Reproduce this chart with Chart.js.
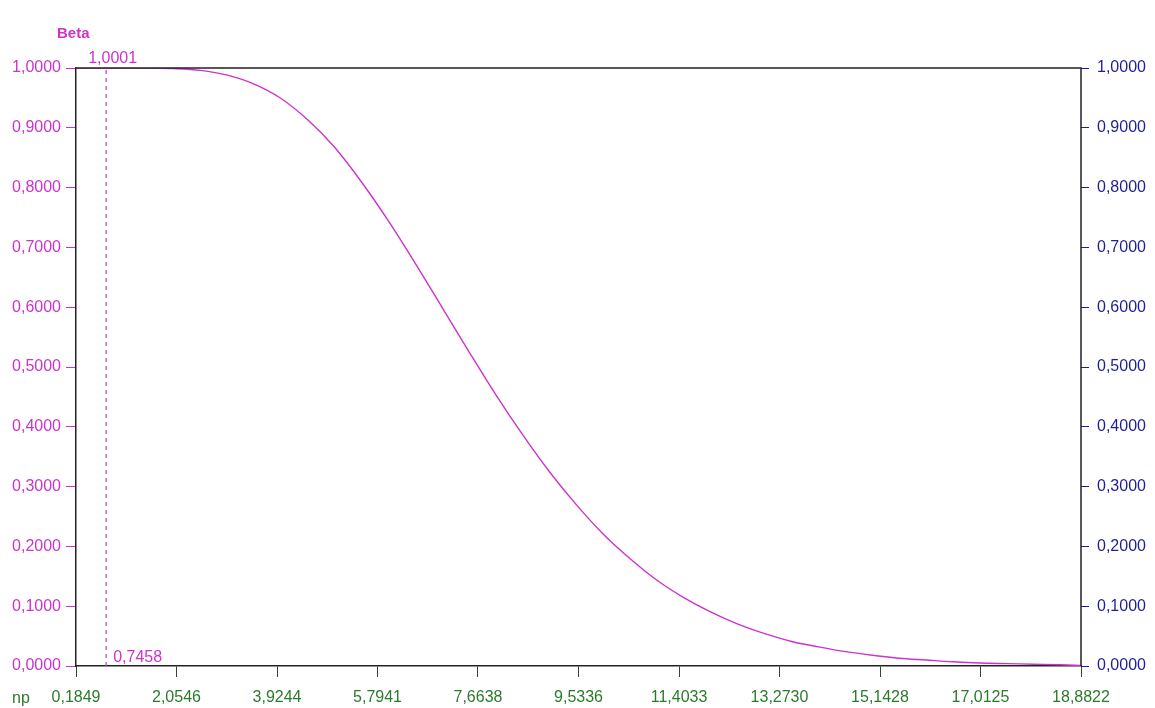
<!DOCTYPE html>
<html>
<head>
<meta charset="utf-8">
<script src="https://cdn.jsdelivr.net/npm/chart.js@4"></script>
<style>
  html, body { margin: 0; padding: 0; background: #fff; }
  #wrap { width: 1155px; height: 708px; }
</style>
</head>
<body>
<div id="wrap"><canvas id="myChart"></canvas></div>
<script>
// values
const npValues = [0.1849, 1.0, 1.5, 2.0, 2.5, 3.0, 3.5, 4.0, 4.5, 5.0, 5.5, 6.0, 6.5, 7.0, 7.5, 8.0, 8.5, 9.0, 9.5, 10.0,
  10.5, 11.0, 11.5, 12.0, 12.5, 13.0, 13.5, 14.0, 14.5, 15.0, 15.5, 16.0, 16.5, 17.0, 17.5, 18.0, 18.5, 18.8822];
const betaValues = [1.0, 1.0, 1.0, 0.999, 0.996, 0.988, 0.973, 0.949, 0.913, 0.867, 0.809, 0.744, 0.673, 0.599, 0.525, 0.453,
  0.386, 0.324, 0.269, 0.220, 0.179, 0.143, 0.114, 0.090, 0.070, 0.054, 0.041, 0.032, 0.024, 0.018, 0.013, 0.010,
  0.007, 0.005, 0.004, 0.003, 0.002, 0.001];
const xTicks = [0.1849, 2.0546, 3.9244, 5.7941, 7.6638, 9.5336, 11.4033, 13.2730, 15.1428, 17.0125, 18.8822];
const yTicks = [0, 0.1, 0.2, 0.3, 0.4, 0.5, 0.6, 0.7, 0.8, 0.9, 1.0];
const markerNp = 0.7458;
const markerTop = 1.0001;

const magenta = '#cc33cc';
const navy = '#1e1e9a';
const green = '#2c7a2c';
const font = { family: 'Liberation Sans', size: 16 };

const fmt = v => v.toFixed(4).replace('.', ',');

const extras = {
  id: 'extras',
  beforeDraw(chart) {
    const c = chart.ctx;
    c.save();
    c.fillStyle = '#fff';
    c.fillRect(0, 0, chart.width, chart.height);
    c.restore();
  },
  afterDraw(chart) {
    const c = chart.ctx;
    const a = chart.chartArea;
    const xs = chart.scales.x;
    const mx = xs.getPixelForValue(markerNp);
    c.save();
    // frame
    c.strokeStyle = '#222';
    c.lineWidth = 1.5;
    c.beginPath();
    c.moveTo(a.left, a.top);
    c.lineTo(a.right, a.top);
    c.lineTo(a.right, a.bottom);
    c.stroke();
    c.textBaseline = 'alphabetic';
    c.font = 'bold 15px "Liberation Sans"';
    c.fillStyle = magenta;
    c.textAlign = 'left';
    c.fillText('Beta', 57, 38);
    c.font = '16px "Liberation Sans"';
    c.fillText(fmt(markerTop), mx - 18, 63);
    c.fillText(fmt(markerNp), mx + 7, 662);
    c.fillStyle = green;
    c.fillText('np', 12, 703);
    c.restore();
  }
};

new Chart(document.getElementById('myChart'), {
  type: 'line',
  data: {
    datasets: [{
      label: 'Beta',
      data: npValues.map((x, i) => ({ x: x, y: betaValues[i] })),
      borderColor: magenta,
      borderWidth: 1.4,
      pointRadius: 0,
      cubicInterpolationMode: 'monotone',
      yAxisID: 'y'
    }, {
      label: 'np',
      data: [{ x: markerNp, y: 0 }, { x: markerNp, y: 1 }],
      borderColor: magenta,
      borderWidth: 1.2,
      borderDash: [4, 4],
      pointRadius: 0,
      yAxisID: 'y'
    }]
  },
  options: {
    responsive: true,
    maintainAspectRatio: false,
    animation: false,
    layout: { padding: { top: 68, left: 0, right: 0, bottom: 0 } },
    plugins: {
      legend: { display: false },
      tooltip: { enabled: false }
    },
    scales: {
      x: {
        type: 'linear',
        min: xTicks[0],
        max: xTicks[xTicks.length - 1],
        afterBuildTicks: s => { s.ticks = xTicks.map(v => ({ value: v })); },
        afterFit: s => { s.height = 42; },
        border: { color: '#222', width: 1.5 },
        grid: { drawOnChartArea: false, color: '#2a4a2a', tickLength: 11 },
        ticks: { color: green, font: font, padding: 11, maxRotation: 0, autoSkip: false, callback: v => fmt(v) }
      },
      y: {
        position: 'left',
        min: 0,
        max: 1,
        afterBuildTicks: s => { s.ticks = yTicks.map(v => ({ value: v })); },
        afterFit: s => { s.width = 76; },
        border: { color: '#222', width: 1.5 },
        grid: { drawOnChartArea: false, color: magenta, tickLength: 10 },
        ticks: { color: magenta, font: font, padding: 5, callback: v => fmt(v) }
      },
      y2: {
        position: 'right',
        min: 0,
        max: 1,
        afterBuildTicks: s => { s.ticks = yTicks.map(v => ({ value: v })); },
        afterFit: s => { s.width = 74; },
        border: { display: false },
        grid: { drawOnChartArea: false, color: navy, tickLength: 8 },
        ticks: { color: navy, font: font, padding: 8, callback: v => fmt(v) }
      }
    }
  },
  plugins: [extras]
});
</script>
</body>
</html>
